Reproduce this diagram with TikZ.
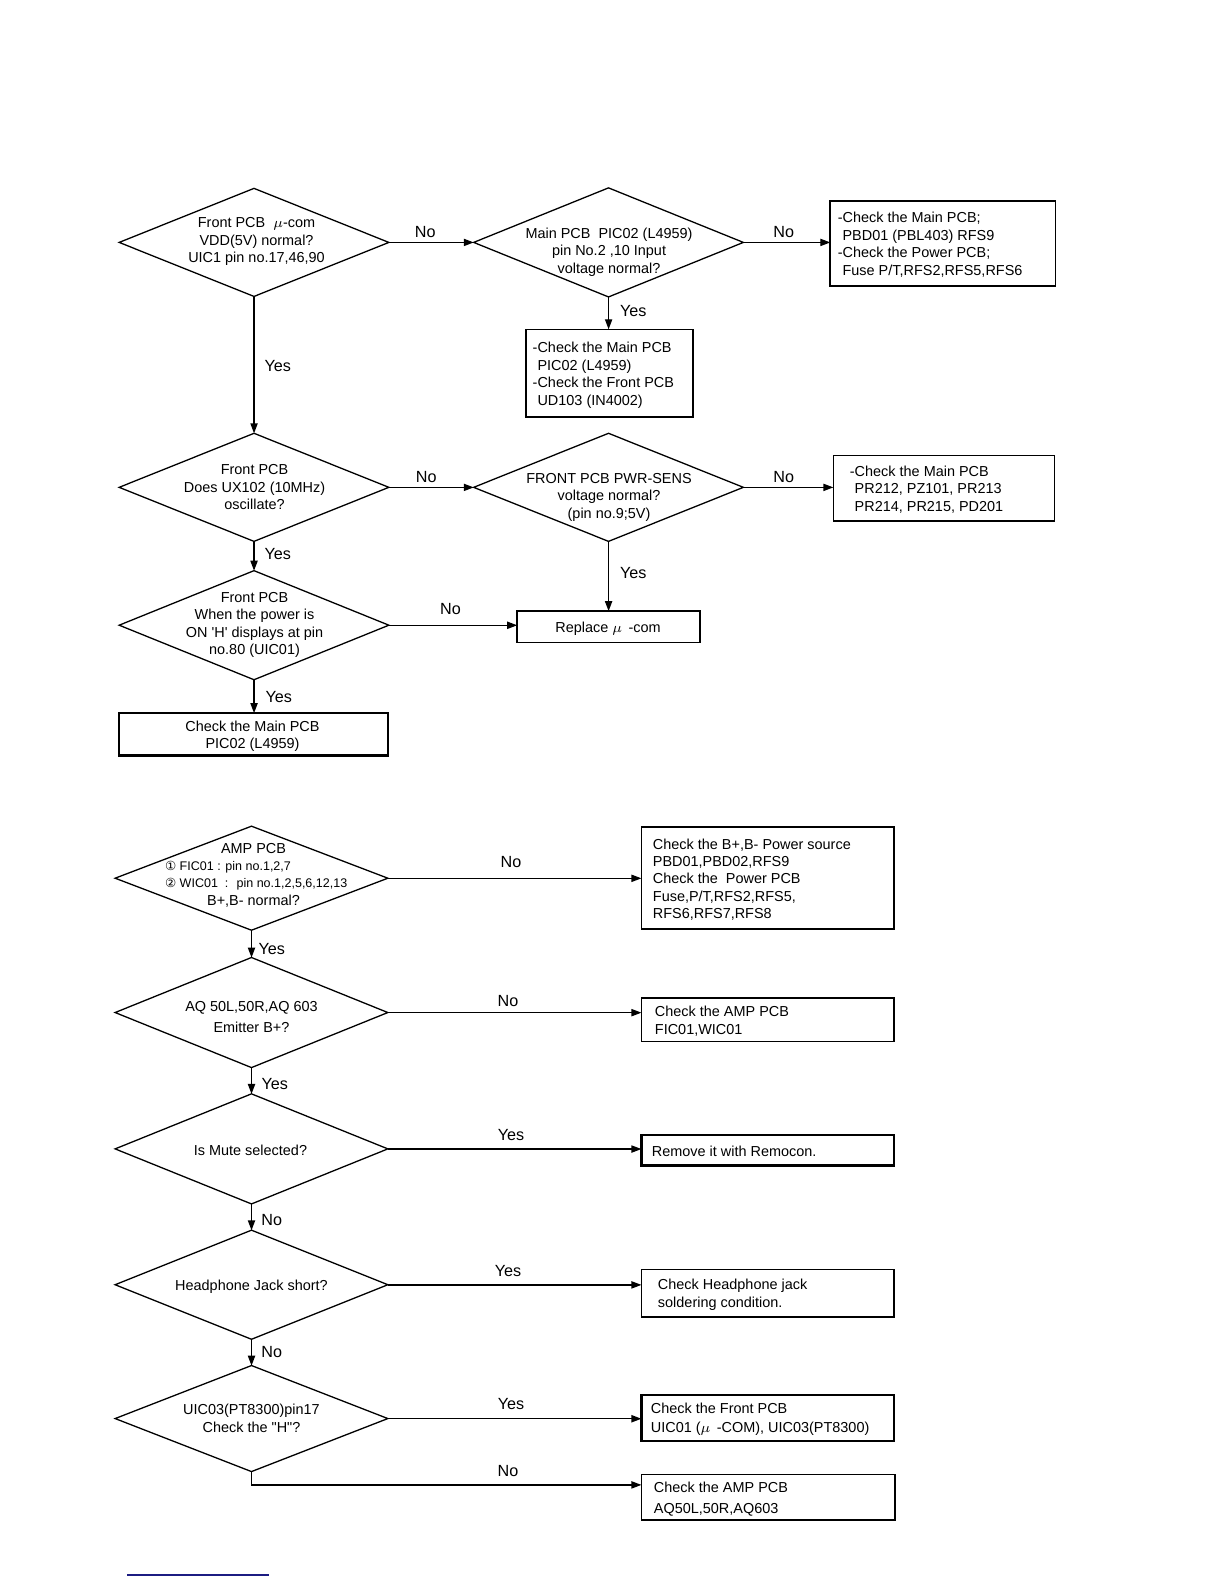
\documentclass[tikz,border=0pt]{standalone}
\usepackage{fontspec}
\setmainfont{Liberation Sans}
\newfontfamily\djv{DejaVu Sans}
\usetikzlibrary{shapes.geometric,arrows.meta,calc}
\definecolor{navy}{RGB}{28,28,130}
\begin{document}
\begin{tikzpicture}[x=0.5bp,y=-0.5bp,scale=1.01,every node/.append style={transform shape},
  dia/.style={draw, diamond, inner sep=0pt, outer sep=0pt, minimum width=133.5bp, minimum height=54bp, line width=0.65bp},
  dib/.style={dia, minimum width=135bp},
  box/.style={draw, rectangle, inner sep=0pt, outer sep=0pt, line width=0.75bp},
  tbox/.style={box, line width=1.2bp},
  txt/.style={align=center, inner sep=0pt, yshift=-0.6bp, font=\fontsize{7.15bp}{8.6bp}\selectfont},
  btxt/.style={align=left, inner sep=0pt, anchor=west, yshift=-0.6bp, font=\fontsize{7.15bp}{8.6bp}\selectfont},
  stxt/.style={align=left, inner sep=0pt, anchor=west, font=\fontsize{6.2bp}{7.5bp}\selectfont},
  lbl/.style={inner sep=0pt, font=\fontsize{8bp}{9bp}\selectfont},
  arr/.style={line width=0.65bp, -{Triangle[length=5bp,width=3.6bp]}}
]
\useasboundingbox (0,0) rectangle (1211.88,1568.32);

% ---------- Section 1 ----------
\node[dia, minimum height=53.5bp] (d1) at (251.5,240) {};
\node[txt] (d1t) at (254,238) {Front PCB \ $\mu$-com\\VDD(5V) normal?\\UIC1 pin no.17,46,90};

\node[dia] (d2) at (602.5,240) {};
\node[txt] (d2t) at (603,248.5) {Main PCB \ PIC02 (L4959)\\pin No.2 ,10 Input\\voltage normal?};

\node[box, minimum width=111.5bp, minimum height=42bp] (b1) at (933.5,241) {};
\node[btxt] (b1t) at ([xshift=3.5bp]b1.west) {-Check the Main PCB;\\\phantom{-}PBD01 (PBL403) RFS9\\-Check the Power PCB;\\\phantom{-}Fuse P/T,RFS2,RFS5,RFS6};

\node[box, minimum width=82.5bp, minimum height=43.5bp] (b2) at (603.5,369.5) {};
\node[btxt] (b2t) at ([xshift=3bp, yshift=-0.4bp]b2.west) {-Check the Main PCB\\\phantom{-}PIC02 (L4959)\\-Check the Front PCB\\\phantom{-}UD103 (IN4002)};

\draw[arr] (d1.east) -- (d2.west);
\node[lbl] (l1) at (421,230) {No};
\draw[arr] (d2.east) -- (d2.east -| b1.west);
\node[lbl] (l2) at (776,230) {No};
\draw[arr] (d2.south) -- (d2.south |- b2.north);
\node[lbl] (l3) at (627,308) {Yes};

\node[dia, minimum height=53.5bp] (d3) at (251.5,482.5) {};
\node[txt] (d3t) at (252,481) {Front PCB\\Does UX102 (10MHz)\\oscillate?};
\draw[arr] (d1.south) -- (d3.north);
\node[lbl] (l4) at (275,362) {Yes};

\node[dia, minimum height=53.5bp] (d4) at (602.5,482.5) {};
\node[txt] (d4t) at (603,491) {FRONT PCB PWR-SENS\\voltage normal?\\(pin no.9;5V)};

\node[box, minimum width=109.5bp, minimum height=32.5bp] (b3) at (934.5,483.5) {};
\node[btxt] (b3t) at ([xshift=8bp]b3.west) {-Check the Main PCB\\\phantom{-}PR212, PZ101, PR213\\\phantom{-}PR214, PR215, PD201};

\draw[arr] (d3.east) -- (d4.west);
\node[lbl] (l5) at (422,472) {No};
\draw[arr] (d4.east) -- (d4.east -| b3.west);
\node[lbl] (l6) at (776,472) {No};

\node[dia] (d5) at (251.5,619) {};
\node[txt] (d5t) at (252,617.5) {Front PCB\\When the power is\\ON \textquotesingle H\textquotesingle\ displays at pin\\no.80 (UIC01)};
\draw[arr] (d3.south) -- (d5.north);
\node[lbl] (l7) at (275,549) {Yes};

\node[box, minimum width=90.5bp, minimum height=15.5bp] (b4) at (602.5,620.5) {};
\node[txt] (b4t) at (602,621) {Replace $\mu$ \,-com};
\draw[arr] (d5.east) -- (d5.east -| b4.west);
\node[lbl] (l8) at (446,603) {No};
\draw[arr] (d4.south) -- (d4.south |- b4.north);
\node[lbl] (l9) at (627,567) {Yes};

\node[tbox, minimum width=133bp, minimum height=21bp] (b5) at (251,727) {};
\node[txt] (b5t) at (250,728) {Check the Main PCB\\PIC02 (L4959)};
\draw[arr] (d5.south) -- (d5.south |- b5.north);
\node[lbl] (l10) at (276,690) {Yes};

% ---------- Section 2 ----------
\node[dib, minimum height=51.5bp] (d6) at (249,869.5) {};
\node[txt] (d6a) at (251,839) {AMP PCB};
\node[stxt] (d6b) at (163,858.5) {{\djv ①} FIC01 : pin no.1,2,7};
\node[stxt] (d6c) at (163,875.5) {{\djv ②} WIC01 \ : \ pin no.1,2,5,6,12,13};
\node[txt] (d6d) at (251,891) {B+,B- normal?};

\node[box, minimum width=125bp, minimum height=50.5bp] (b6) at (760,869.5) {};
\node[btxt] (b6t) at ([xshift=5.5bp]b6.west) {Check the B+,B- Power source\\PBD01,PBD02,RFS9\\Check the \ Power PCB\\Fuse,P/T,RFS2,RFS5,\\RFS6,RFS7,RFS8};
\draw[arr] (d6.east) -- (d6.east -| b6.west);
\node[lbl] (l11) at (506,853) {No};

\node[dib, minimum height=54.5bp] (d7) at (249,1002.5) {};
\node[txt, font=\fontsize{7.15bp}{10.5bp}\selectfont] (d7t) at (249,1005.5) {AQ 50L,50R,AQ 603\\Emitter B+?};
\draw[arr] (d6.south) -- (d7.north);
\node[lbl] (l12) at (269,940) {Yes};

\node[box, minimum width=125bp, minimum height=21.5bp] (b7) at (760,1009.5) {};
\node[btxt, font=\fontsize{7.15bp}{9bp}\selectfont] (b7t) at ([xshift=6.5bp]b7.west) {Check the AMP PCB\\FIC01,WIC01};
\draw[arr] (d7.east) -- (d7.east -| b7.west);
\node[lbl] (l13) at (503,991) {No};

\node[dib, minimum height=54.5bp] (d8) at (249,1137.5) {};
\node[txt] (d8t) at (248,1138) {Is Mute selected?};
\draw[arr] (d7.south) -- (d8.north);
\node[lbl] (l14) at (272,1073) {Yes};

\node[tbox, minimum width=125bp, minimum height=15bp] (b8) at (760,1139) {};
\node[btxt] (b8t) at ([xshift=5bp]b8.west) {Remove it with Remocon.};
\draw[arr] (d8.east) -- (d8.east -| b8.west);
\node[lbl] (l15) at (506,1124) {Yes};

\node[dib] (d9) at (249,1272) {};
\node[txt] (d9t) at (249,1273) {Headphone Jack short?};
\draw[arr] (d8.south) -- (d9.north);
\node[lbl] (l16) at (269,1208) {No};

\node[box, minimum width=125bp, minimum height=23.5bp] (b9) at (760,1280.5) {};
\node[btxt, font=\fontsize{7.15bp}{9bp}\selectfont] (b9t) at ([xshift=8bp]b9.west) {Check Headphone jack\\soldering condition.};
\draw[arr] (d9.east) -- (d9.east -| b9.west);
\node[lbl] (l17) at (503,1258) {Yes};

\node[dib, minimum height=52.5bp] (d10) at (249,1404.5) {};
\node[txt, font=\fontsize{7.15bp}{9bp}\selectfont] (d10t) at (249,1403) {UIC03(PT8300)pin17\\Check the \textquotedbl H\textquotedbl ?};
\draw[arr] (d9.south) -- (d10.north);
\node[lbl] (l18) at (269,1339) {No};

\node[tbox, minimum width=125bp, minimum height=23bp] (b10) at (760,1404) {};
\node[btxt, font=\fontsize{7.15bp}{9.5bp}\selectfont] (b10t) at ([xshift=4.5bp]b10.west) {Check the Front PCB\\UIC01 ($\mu$ \,-COM), UIC03(PT8300)};
\draw[arr] (d10.east) -- (d10.east -| b10.west);
\node[lbl] (l19) at (506,1390) {Yes};

\node[box, minimum width=125.5bp, minimum height=22.5bp] (b11) at (760.5,1482.5) {};
\node[btxt, font=\fontsize{7.15bp}{10.5bp}\selectfont] (b11t) at ([xshift=6bp]b11.west) {Check the AMP PCB\\AQ50L,50R,AQ603};
\draw[arr] (d10.south) |- ([yshift=6.25bp]b11.west);
\node[lbl] (l20) at (503,1456) {No};

% footer rule
\draw[navy, line width=1bp] (126,1559) -- (266,1559);
\end{tikzpicture}
\end{document}
